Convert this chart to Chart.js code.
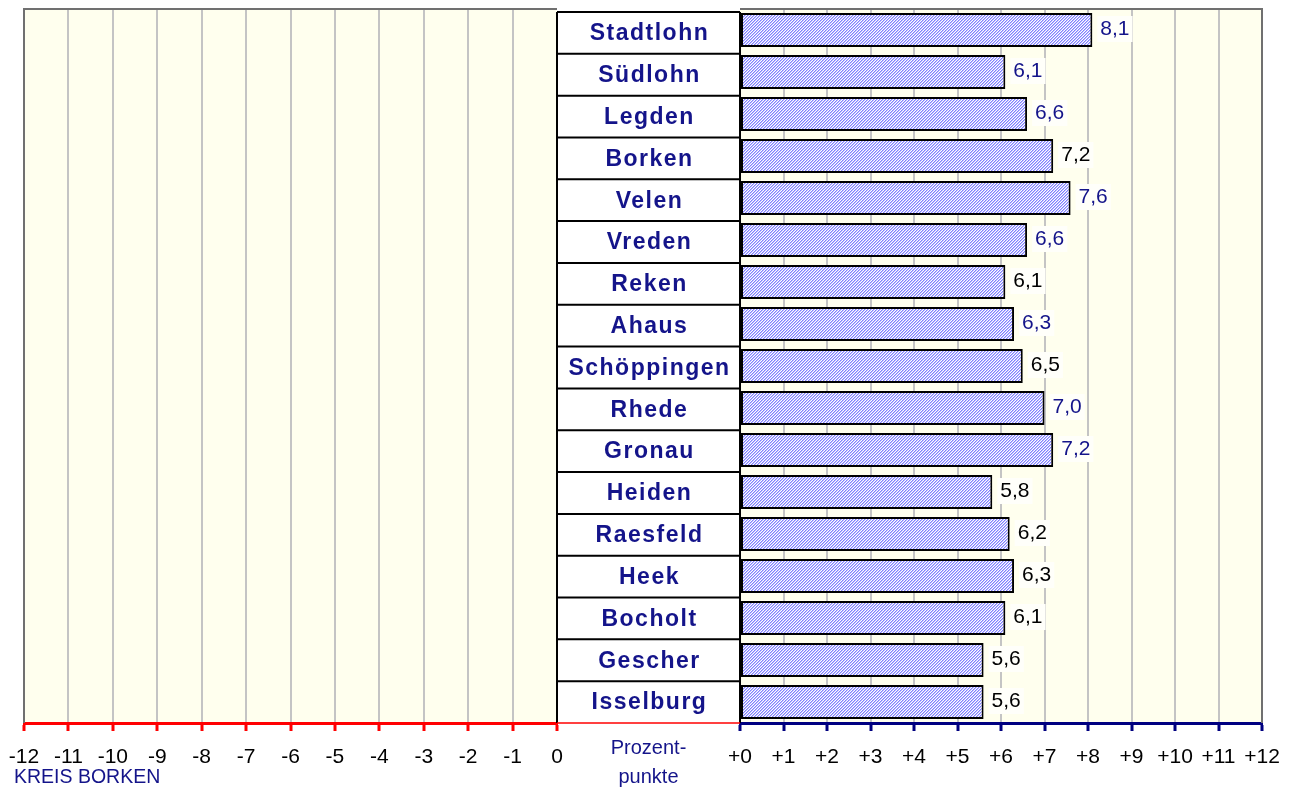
<!DOCTYPE html>
<html>
<head>
<meta charset="utf-8">
<script src="https://cdn.jsdelivr.net/npm/chart.js@4.4.1/dist/chart.umd.min.js"></script>
<style>
  html, body { margin: 0; padding: 0; background: #fff; }
  #wrap { position: relative; width: 1293px; height: 789px; overflow: hidden; }
  #leftBox { position: absolute; left: 0; top: 0; width: 600px; height: 789px; }
  #rightBox { position: absolute; left: 540px; top: 0; width: 753px; height: 789px; }
</style>
</head>
<body>
<div id="wrap">
  <div id="leftBox"><canvas id="leftChart"></canvas></div>
  <div id="rightBox"><canvas id="rightChart"></canvas></div>
</div>
<script>
// data
const towns = ['Stadtlohn', 'Südlohn', 'Legden', 'Borken', 'Velen', 'Vreden', 'Reken', 'Ahaus',
  'Schöppingen', 'Rhede', 'Gronau', 'Heiden', 'Raesfeld', 'Heek', 'Bocholt', 'Gescher', 'Isselburg'];
const changes = [8.1, 6.1, 6.6, 7.2, 7.6, 6.6, 6.1, 6.3, 6.5, 7.0, 7.2, 5.8, 6.2, 6.3, 6.1, 5.6, 5.6];
const negTicks = ['-12', '-11', '-10', '-9', '-8', '-7', '-6', '-5', '-4', '-3', '-2', '-1', '0'];
const posTicks = ['+0', '+1', '+2', '+3', '+4', '+5', '+6', '+7', '+8', '+9', '+10', '+11', '+12'];
// which value labels are printed in blue (the rest black)
const blueLabel = [true, true, true, false, true, true, false, true, false, true, true,
  false, false, false, false, false, false];

const FONT = 'Arial, "Liberation Sans", sans-serif';
const NAVY = '#14148a';

// hatched fill for the bars
function makeHatch(ctx) {
  const c = document.createElement('canvas');
  c.width = 6; c.height = 6;
  const g = c.getContext('2d');
  const img = g.createImageData(6, 6);
  for (let y = 0; y < 6; y++) {
    for (let x = 0; x < 6; x++) {
      const k = (x + y) % 3;
      const col = k === 0 ? [128, 128, 255] : k === 1 ? [190, 190, 255] : [255, 255, 255];
      const p = (y * 6 + x) * 4;
      img.data[p] = col[0]; img.data[p + 1] = col[1]; img.data[p + 2] = col[2]; img.data[p + 3] = 255;
    }
  }
  g.putImageData(img, 0, 0);
  return ctx.createPattern(c, 'repeat');
}

// keep the plot edges where the layout padding puts them
function fixAxis(s) {
  s.height = 66;
  s.paddingLeft = 0;
  s.paddingRight = 0;
}

const plotBackground = {
  id: 'plotBackground',
  beforeDraw(chart) {
    const { ctx, chartArea: a } = chart;
    ctx.save();
    ctx.fillStyle = '#ffffee';
    ctx.fillRect(a.left, a.top, a.right - a.left, a.bottom - a.top);
    ctx.restore();
  }
};

const leftExtras = {
  id: 'leftExtras',
  afterDraw(chart) {
    const { ctx, chartArea: a } = chart;
    ctx.save();
    ctx.strokeStyle = '#707070';
    ctx.lineWidth = 2;
    ctx.beginPath();
    ctx.moveTo(a.left, a.bottom);
    ctx.lineTo(a.left, a.top);
    ctx.lineTo(a.right, a.top);
    ctx.stroke();
    ctx.fillStyle = NAVY;
    ctx.font = '19.5px ' + FONT;
    ctx.textAlign = 'left';
    ctx.textBaseline = 'middle';
    ctx.fillText('KREIS BORKEN', 14, 778);
    ctx.restore();
  }
};

const labelColumn = {
  id: 'labelColumn',
  afterDraw(chart) {
    const { ctx, chartArea: a, scales: { y } } = chart;
    const left = y.left, right = a.left;
    const top = a.top + 3, bottom = a.bottom;
    const n = chart.data.labels.length;
    const h = (bottom - top) / n;
    ctx.save();
    ctx.fillStyle = '#ffffff';
    ctx.fillRect(left, top, right - left, bottom - top);
    ctx.strokeStyle = '#000';
    ctx.lineWidth = 2;
    ctx.beginPath();
    for (let i = 0; i < n; i++) {
      ctx.moveTo(left, top + i * h);
      ctx.lineTo(right, top + i * h);
    }
    ctx.moveTo(left, top); ctx.lineTo(left, bottom);
    ctx.moveTo(right, top); ctx.lineTo(right, bottom);
    ctx.stroke();
    // thin red line under the column
    ctx.strokeStyle = '#ff0000';
    ctx.lineWidth = 1.5;
    ctx.beginPath();
    ctx.moveTo(left, bottom); ctx.lineTo(right, bottom);
    ctx.stroke();
    // names
    ctx.fillStyle = NAVY;
    ctx.font = 'bold 23px ' + FONT;
    ctx.letterSpacing = '1.5px';
    ctx.textAlign = 'center';
    ctx.textBaseline = 'middle';
    chart.data.labels.forEach((name, i) => {
      ctx.fillText(name, (left + right) / 2 + 1, top + (i + 0.5) * h + 1);
    });
    ctx.letterSpacing = '0px';
    // unit caption
    ctx.font = '20px ' + FONT;
    ctx.fillText('Prozent-', (left + right) / 2, 748);
    ctx.fillText('punkte', (left + right) / 2, 777);
    // frame top/right of the plot
    ctx.strokeStyle = '#707070';
    ctx.lineWidth = 2;
    ctx.beginPath();
    ctx.moveTo(a.left, a.top);
    ctx.lineTo(a.right, a.top);
    ctx.lineTo(a.right, a.bottom);
    ctx.stroke();
    ctx.restore();
  }
};

const valueLabels = {
  id: 'valueLabels',
  afterDatasetsDraw(chart) {
    const { ctx } = chart;
    const meta = chart.getDatasetMeta(0);
    ctx.save();
    ctx.font = '21px ' + FONT;
    ctx.textAlign = 'left';
    ctx.textBaseline = 'middle';
    meta.data.forEach((bar, i) => {
      const txt = changes[i].toFixed(1).replace('.', ',');
      const w = ctx.measureText(txt).width;
      const x = bar.x + 8;
      ctx.fillStyle = '#fffffa';
      ctx.fillRect(x - 3, bar.y - 14, w + 6, 26);
      ctx.fillStyle = blueLabel[i] ? NAVY : '#000';
      ctx.fillText(txt, x, bar.y - 1);
    });
    ctx.restore();
  }
};

// left half: empty -12 .. 0 scale
new Chart(document.getElementById('leftChart'), {
  type: 'bar',
  data: { labels: towns, datasets: [] },
  options: {
    animation: false,
    responsive: true,
    maintainAspectRatio: false,
    indexAxis: 'y',
    layout: { padding: { left: 24, right: 43, top: 9, bottom: 0 } },
    plugins: { legend: { display: false }, tooltip: { enabled: false } },
    scales: {
      x: {
        type: 'linear', min: -12, max: 0,
        afterFit: fixAxis,
        ticks: {
          stepSize: 1, autoSkip: false, maxRotation: 0, padding: 14, color: '#000',
          font: { family: FONT, size: 21 },
          callback: (v, i) => negTicks[i]
        },
        grid: {
          color: c => (c.tick && (c.tick.value === -12 || c.tick.value === 0)) ? 'rgba(0,0,0,0)' : '#c4c4c4',
          lineWidth: 2, tickColor: '#ff0000', tickLength: 8, tickWidth: 3
        },
        border: { color: '#ff0000', width: 3 }
      },
      y: { display: false }
    }
  },
  plugins: [plotBackground, leftExtras]
});

// right half: bars on +0 .. +12
const rightCanvas = document.getElementById('rightChart');
const hatch = makeHatch(rightCanvas.getContext('2d'));

new Chart(rightCanvas, {
  type: 'bar',
  data: {
    labels: towns,
    datasets: [{
      data: changes,
      backgroundColor: hatch,
      borderColor: '#000',
      borderWidth: 2,
      borderSkipped: false,
      categoryPercentage: 1,
      barPercentage: 0.81
    }]
  },
  options: {
    animation: false,
    responsive: true,
    maintainAspectRatio: false,
    indexAxis: 'y',
    layout: { padding: { left: 17, right: 31, top: 9, bottom: 0 } },
    plugins: { legend: { display: false }, tooltip: { enabled: false } },
    scales: {
      x: {
        type: 'linear', min: 0, max: 12,
        afterFit: fixAxis,
        ticks: {
          stepSize: 1, autoSkip: false, maxRotation: 0, padding: 14, color: '#000',
          font: { family: FONT, size: 21 },
          callback: (v, i) => posTicks[i]
        },
        grid: {
          color: c => (c.tick && (c.tick.value === 0 || c.tick.value === 12)) ? 'rgba(0,0,0,0)' : '#c4c4c4',
          lineWidth: 2, tickColor: '#000080', tickLength: 8, tickWidth: 3
        },
        border: { color: '#000080', width: 3 }
      },
      y: {
        position: 'left',
        afterFit: s => { s.width = 183; },
        ticks: { display: false },
        grid: { display: false },
        border: { display: false }
      }
    }
  },
  plugins: [plotBackground, valueLabels, labelColumn]
});
</script>
</body>
</html>
